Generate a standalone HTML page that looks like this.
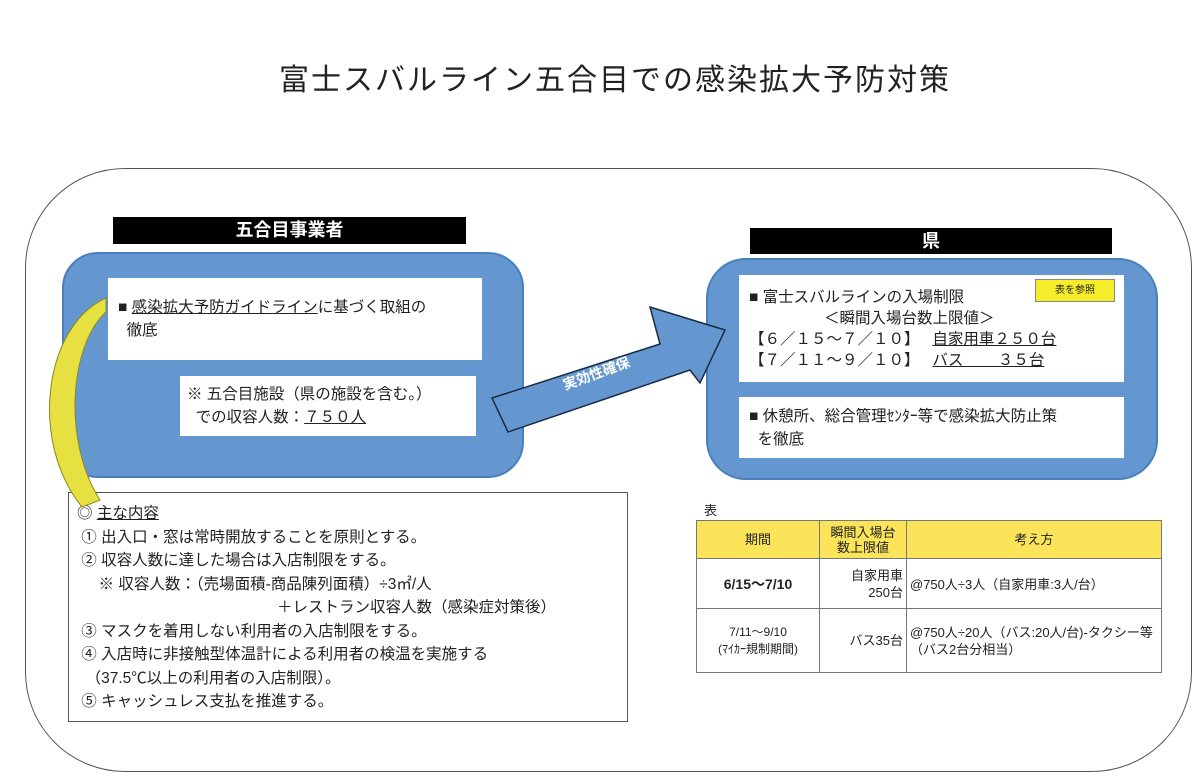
<!DOCTYPE html>
<html><head><meta charset="utf-8"><style>
body{margin:0;width:1200px;height:784px;background:#fff;position:relative;overflow:hidden;font-family:"Liberation Sans","Noto Sans CJK JP",sans-serif;color:#222}
.a{position:absolute}
.bar{background:#000;color:#fff;font-weight:bold;font-size:18px;text-align:center;line-height:27px}
.blue{background:#6497cf;border:2px solid #4a7fbf;border-radius:36px}
.w{background:#fff;font-size:15.5px;line-height:23px}
u{text-decoration:underline}
table{border-collapse:collapse;font-size:13px}
td{border:1px solid #777;padding:0 3px}
</style></head><body>
<div class="a" style="left:0;top:55px;width:1230px;text-align:center;font-size:30px;letter-spacing:2px">富士スバルライン五合目での感染拡大予防対策</div>
<div class="a" style="left:25px;top:168px;width:1165px;height:602px;border:1.5px solid #555;border-radius:100px"></div>

<div class="a bar" style="left:113px;top:217px;width:353px;height:27px">五合目事業者</div>
<div class="a blue" style="left:62px;top:252px;width:458px;height:222px"></div>
<div class="a w" style="left:108px;top:278px;width:374px;height:82px;padding:18px 0 0 10px;box-sizing:border-box">■ <u>感染拡大予防ガイドライン</u>に基づく取組の<br>&nbsp;&nbsp;徹底</div>
<div class="a w" style="left:180px;top:376px;width:296px;height:60px;padding:7px 0 0 7px;box-sizing:border-box">※ 五合目施設（県の施設を含む。）<br>&nbsp;&nbsp;での収容人数：<u>７５０人</u></div>

<div class="a bar" style="left:750px;top:228px;width:362px;height:26px">県</div>
<div class="a blue" style="left:706px;top:258px;width:448px;height:218px;border-radius:40px"></div>
<div class="a w" style="left:739px;top:275px;width:385px;height:107px;padding:12px 0 0 10px;box-sizing:border-box;line-height:21px">■ 富士スバルラインの入場制限<br><span style="padding-left:75px">＜瞬間入場台数上限値＞</span><br>【６／１５～７／１０】&nbsp;&nbsp;&nbsp;<u>自家用車２５０台</u><br>【７／１１～９／１０】&nbsp;&nbsp;&nbsp;<u>バス&nbsp;&nbsp;&nbsp;&nbsp;&nbsp;&nbsp;&nbsp;&nbsp;３５台</u></div>
<div class="a" style="left:1035px;top:279px;width:78px;height:21px;background:#f5ec2a;border:1px solid #888;font-size:10px;text-align:center;line-height:21px">表を参照</div>
<div class="a w" style="left:739px;top:397px;width:385px;height:61px;padding:8px 0 0 10px;box-sizing:border-box">■ 休憩所、総合管理ｾﾝﾀｰ等で感染拡大防止策<br>&nbsp;&nbsp;を徹底</div>

<div class="a" style="left:68px;top:492px;width:560px;height:230px;border:1px solid #555;box-sizing:border-box;font-size:15.5px;line-height:23.5px;padding:9px 0 0 8px;background:#fff">◎ <u>主な内容</u><br>&nbsp;① 出入口・窓は常時開放することを原則とする。<br>&nbsp;② 収容人数に達した場合は入店制限をする。<br>&nbsp;&nbsp;&nbsp;&nbsp;&nbsp;※ 収容人数：（売場面積-商品陳列面積）÷3㎡/人<br><span style="padding-left:200px">＋レストラン収容人数（感染症対策後）</span><br>&nbsp;③ マスクを着用しない利用者の入店制限をする。<br>&nbsp;④ 入店時に非接触型体温計による利用者の検温を実施する<br>&nbsp;&nbsp;（37.5℃以上の利用者の入店制限）。<br>&nbsp;⑤ キャッシュレス支払を推進する。</div>

<div class="a" style="left:704px;top:500px;font-size:13px">表</div>
<table class="a" style="left:696px;top:520px;width:466px">
<tr style="background:#fce45a;height:38px;text-align:center;line-height:15px"><td style="width:116px">期間</td><td style="width:80px">瞬間入場台<br>数上限値</td><td>考え方</td></tr>
<tr style="height:50px"><td style="text-align:center;font-weight:bold;font-size:14px">6/15～7/10</td><td style="text-align:right;line-height:17px">自家用車<br>250台</td><td>@750人÷3人（自家用車:3人/台）</td></tr>
<tr style="height:64px;line-height:17px"><td style="text-align:center;font-size:12px">7/11～9/10<br>(ﾏｲｶｰ規制期間)</td><td style="text-align:right">バス35台</td><td>@750人÷20人（バス:20人/台)-タクシー等（バス2台分相当）</td></tr>
</table>

<svg class="a" style="left:0;top:0" width="1200" height="784">
<polygon points="492,398 660,344 650,307 725,330 700,383 690,370 508,432" fill="#6497cf" stroke="#1a2a40" stroke-width="1.5"/>
<text x="598" y="378" transform="rotate(-20 598 378)" fill="#fff" font-size="14" font-weight="bold" text-anchor="middle" font-family="Liberation Sans,Noto Sans CJK JP,sans-serif">実効性確保</text>
<path d="M106,298 C45,325 28,440 82,507 L100,500 C62,440 70,345 106,312 Z" fill="#e6e040" stroke="#8a8a20" stroke-width="1"/>
</svg>
</body></html>
